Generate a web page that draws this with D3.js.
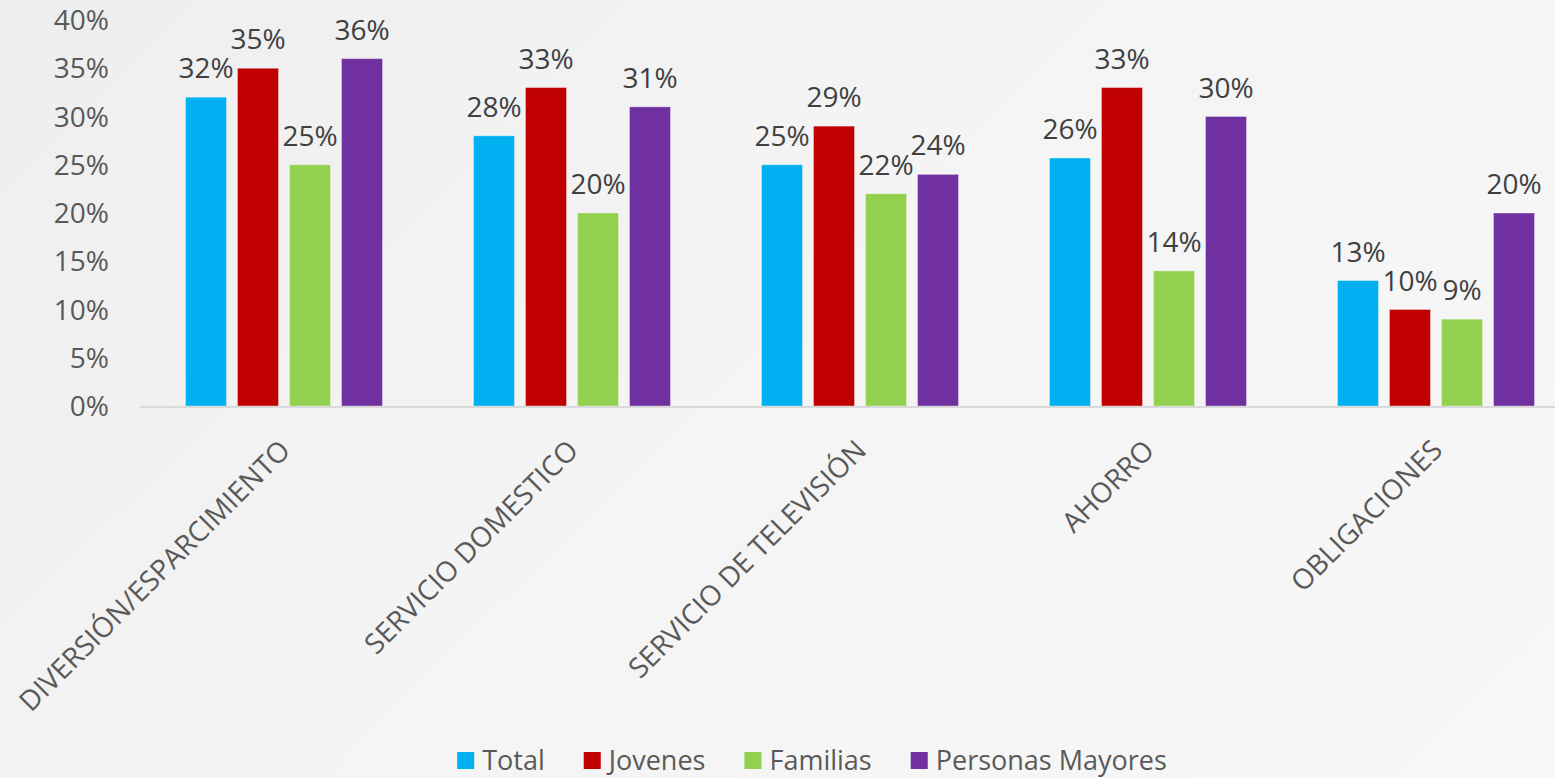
<!DOCTYPE html>
<meta charset="utf-8">
<script src="https://d3js.org/d3.v7.min.js"></script>
<style>
  html, body { margin: 0; padding: 0; }
  body {
    width: 1555px; height: 778px; overflow: hidden;
    background: linear-gradient(135deg, #eeeeee 0%, #f4f4f4 45%, #f7f7f7 100%);
    font-family: "Open Sans", "Noto Sans", sans-serif;
  }
  svg { display: block; }
</style>
<body>
<div id="chart"></div>
<script>
// data
var categories = ["DIVERSIÓN/ESPARCIMIENTO", "SERVICIO DOMESTICO", "SERVICIO DE TELEVISIÓN", "AHORRO", "OBLIGACIONES"];
var seriesNames = ["Total", "Jovenes", "Familias", "Personas Mayores"];
var seriesColors = ["#00b0f0", "#c00000", "#92d050", "#7030a0"];
var total    = [32, 28, 25, 25.7, 13];
var jovenes  = [35, 33, 29, 33, 10];
var familias = [25, 20, 22, 14, 9];
var mayores  = [36, 31, 24, 30, 20];
var yTicks = [0, 5, 10, 15, 20, 25, 30, 35, 40];

var allSeries = [total, jovenes, familias, mayores];

var width = 1555, height = 778;
var svg = d3.select("#chart").append("svg")
  .attr("width", width)
  .attr("height", height);

// scales
var x = d3.scaleBand()
  .domain(categories)
  .range([140, 1580])
  .padding(0);

var xInner = d3.scaleBand()
  .domain(seriesNames)
  .range([45.5, 242.5])
  .paddingInner(0.2115)
  .paddingOuter(0);

var y = d3.scaleLinear()
  .domain([0, 40])
  .range([406, 20]);

// y tick labels
svg.append("g")
  .selectAll("text")
  .data(yTicks)
  .enter()
  .append("text")
    .attr("x", 109)
    .attr("y", function(d) { return y(d); })
    .attr("dy", "0.36em")
    .attr("text-anchor", "end")
    .style("font-size", "28px")
    .style("fill", "#595959")
    .text(function(d) { return d + "%"; });

// flatten to bar records
var bars = [];
categories.forEach(function(c, i) {
  seriesNames.forEach(function(s, j) {
    bars.push({ cat: c, series: s, color: seriesColors[j], value: allSeries[j][i] });
  });
});

// bars
svg.append("g")
  .selectAll("rect")
  .data(bars)
  .enter()
  .append("rect")
    .attr("x", function(d) { return x(d.cat) + xInner(d.series); })
    .attr("y", function(d) { return y(d.value); })
    .attr("width", xInner.bandwidth())
    .attr("height", function(d) { return y(0) - y(d.value); })
    .style("fill", function(d) { return d.color; })
    .style("stroke", "#ffffff")
    .style("stroke-opacity", 0.35)
    .style("stroke-width", 1);

// baseline
svg.append("line")
  .attr("x1", x.range()[0])
  .attr("x2", x.range()[1])
  .attr("y1", y(0) + 1)
  .attr("y2", y(0) + 1)
  .style("stroke", "#d9d9d9")
  .style("stroke-width", 2);

// value labels
svg.append("g")
  .selectAll("text")
  .data(bars)
  .enter()
  .append("text")
    .attr("x", function(d) { return x(d.cat) + xInner(d.series) + xInner.bandwidth() / 2; })
    .attr("y", function(d) { return y(d.value) - 19; })
    .attr("text-anchor", "middle")
    .style("font-size", "28px")
    .style("fill", "#404040")
    .text(function(d) { return Math.round(d.value) + "%"; });

// category labels, rotated
svg.append("g")
  .selectAll("text")
  .data(categories)
  .enter()
  .append("text")
    .attr("transform", function(d) {
      return "translate(" + (x(d) + x.bandwidth() / 2 + 8) + ",452) rotate(-45)";
    })
    .attr("text-anchor", "end")
    .style("font-size", "28px")
    .style("fill", "#595959")
    .text(function(d) { return d; });

// legend
var legend = svg.append("g");
var items = legend.selectAll("g")
  .data(seriesNames)
  .enter()
  .append("g");

items.append("rect")
  .attr("width", 17)
  .attr("height", 17)
  .attr("y", 752)
  .style("fill", function(d, i) { return seriesColors[i]; });

items.append("text")
  .attr("x", 25)
  .attr("y", 770)
  .style("font-size", "27px")
  .style("fill", "#595959")
  .text(function(d) { return d; });

var cursor = 0;
items.each(function() {
  var g = d3.select(this);
  g.attr("transform", "translate(" + cursor + ",0)");
  cursor += 25 + g.select("text").node().getComputedTextLength() + 39;
});
var legendWidth = cursor - 39;
legend.attr("transform", "translate(" + (812 - legendWidth / 2) + ",0)");
</script>
</body>
